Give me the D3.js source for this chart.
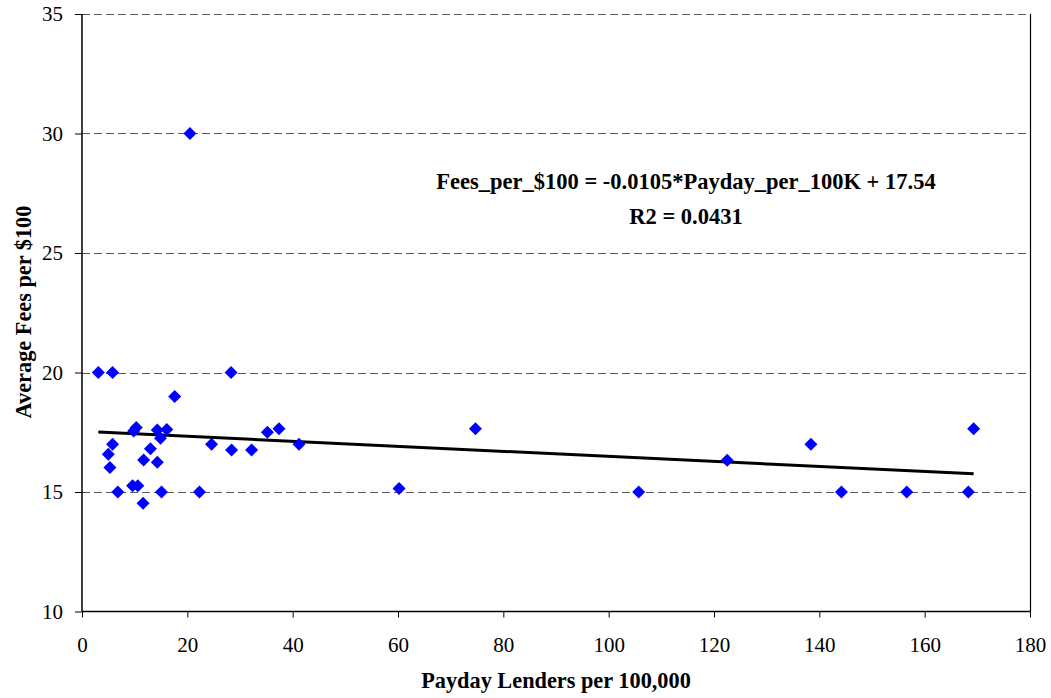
<!DOCTYPE html>
<html>
<head>
<meta charset="utf-8">
<script src="https://cdn.jsdelivr.net/npm/d3@7/dist/d3.min.js"></script>
<style>
  html, body { margin: 0; padding: 0; background: #fff; }
  svg { display: block; }
  text { font-family: "Liberation Serif", "Times New Roman", serif; fill: #000; }
</style>
</head>
<body>
<svg id="chart" width="1051" height="698"></svg>
<script>
// Data
const lendersPer100K = [3.1, 5.8, 28.3, 17.6, 9.8, 10.3, 14.3, 16.1, 14.9, 5.8, 5.0, 5.3, 13.0, 11.7, 14.3,
  24.6, 28.4, 32.2, 35.2, 37.4, 41.2, 6.8, 9.6, 10.6, 15.1, 22.3, 11.6, 20.5, 60.2, 74.7, 105.7, 122.5,
  138.4, 144.2, 156.6, 168.3, 169.3];
const feesPer100 = [20.0, 20.0, 20.0, 19.0, 17.55, 17.7, 17.59, 17.62, 17.25, 17.0, 16.58, 16.02, 16.81, 16.34, 16.24,
  17.0, 16.76, 16.76, 17.5, 17.65, 17.0, 15.0, 15.26, 15.26, 15.0, 15.0, 14.53, 30.0, 15.15, 17.65, 15.0, 16.33,
  17.0, 15.0, 15.0, 15.0, 17.65];
const trendSlope = [-0.0105];
const trendIntercept = [17.54];
const equationLines = ["Fees_per_$100 = -0.0105*Payday_per_100K + 17.54", "R2 = 0.0431"];
const xTicks = [0, 20, 40, 60, 80, 100, 120, 140, 160, 180];
const yTicks = [10, 15, 20, 25, 30, 35];
const xTitle = "Payday Lenders per 100,000";
const yTitle = "Average Fees per $100";

const svg = d3.select("#chart");
const L = 82, R = 1030, T = 14, B = 611.5;
const FONT = "'Liberation Serif', 'Times New Roman', serif";

const x = d3.scaleLinear().domain([0, 180]).range([L, R]);
const y = d3.scaleLinear().domain([10, 35]).range([B, T]);

// gridlines
svg.append("g").selectAll("line").data(yTicks.filter(v => v > 10)).join("line")
  .attr("x1", L).attr("x2", R)
  .attr("y1", d => Math.round(y(d)) + 0.5).attr("y2", d => Math.round(y(d)) + 0.5)
  .attr("stroke", "#5a5a5a").attr("stroke-width", 1)
  .attr("stroke-dasharray", "8,4");

// right border
svg.append("line").attr("x1", R + 0.5).attr("x2", R + 0.5).attr("y1", T).attr("y2", B)
  .attr("stroke", "#000").attr("stroke-width", 1.2);

// axes
const xAxis = d3.axisBottom(x).tickValues(xTicks).tickSize(6).tickPadding(20).tickFormat(d3.format("d"));
const gx = svg.append("g").attr("transform", `translate(0,${B})`).call(xAxis)
  .attr("font-family", FONT).attr("font-size", 21);
gx.select(".domain").attr("stroke", "#000").attr("stroke-width", 1.5).attr("d", `M${L},0H${R}`);
gx.selectAll(".tick line").attr("stroke", "#000").attr("stroke-width", 1);
gx.selectAll(".tick text").attr("fill", "#000");

const yAxis = d3.axisLeft(y).tickValues(yTicks).tickSize(7).tickPadding(12).tickFormat(d3.format("d"));
const gy = svg.append("g").attr("transform", `translate(${L},0)`).call(yAxis)
  .attr("font-family", FONT).attr("font-size", 21);
gy.select(".domain").attr("stroke", "#000").attr("stroke-width", 1.5).attr("d", `M0,${T}V${B}`);
gy.selectAll(".tick line").attr("stroke", "#000").attr("stroke-width", 1);
gy.selectAll(".tick text").attr("fill", "#000");

// trend line across data range
const xr = d3.extent(lendersPer100K);
const trend = xr.map(v => [v, trendSlope[0] * v + trendIntercept[0]]);
svg.append("path")
  .attr("d", d3.line().x(d => x(d[0])).y(d => y(d[1]))(trend))
  .attr("stroke", "#000").attr("stroke-width", 3).attr("fill", "none");

// points
const pts = lendersPer100K.map((v, i) => [v, feesPer100[i]]);
svg.append("g").selectAll("path").data(pts).join("path")
  .attr("transform", d => `translate(${x(d[0])},${y(d[1])})`)
  .attr("d", "M0,-6.5L6.5,0L0,6.5L-6.5,0Z")
  .attr("fill", "#0000ff");

// equation
svg.append("text").attr("x", 686).attr("y", 189).attr("text-anchor", "middle")
  .attr("font-family", FONT).attr("font-size", 22.5).attr("font-weight", "bold").text(equationLines[0]);
svg.append("text").attr("x", 686).attr("y", 224).attr("text-anchor", "middle")
  .attr("font-family", FONT).attr("font-size", 22.5).attr("font-weight", "bold").text(equationLines[1]);

// axis titles
svg.append("text").attr("x", 556).attr("y", 688).attr("text-anchor", "middle")
  .attr("font-family", FONT).attr("font-size", 22.3).attr("font-weight", "bold").text(xTitle);
svg.append("text").attr("transform", "translate(31,312) rotate(-90)").attr("text-anchor", "middle")
  .attr("font-family", FONT).attr("font-size", 22.3).attr("font-weight", "bold").text(yTitle);
</script>
</body>
</html>
